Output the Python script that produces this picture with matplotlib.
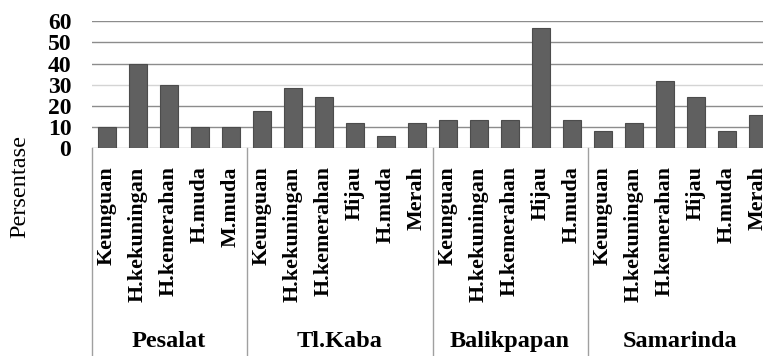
import numpy as np
import matplotlib.pyplot as plt

# Data
groups = ['Pesalat', 'Tl.Kaba', 'Balikpapan', 'Samarinda']
pesalat_cats = ['Keunguan', 'H.kekuningan', 'H.kemerahan', 'H.muda', 'M.muda']
pesalat_vals = [10, 40, 30, 10, 10]
tlkaba_cats = ['Keunguan', 'H.kekuningan', 'H.kemerahan', 'Hijau', 'H.muda', 'Merah']
tlkaba_vals = [17.8, 28.5, 24.2, 11.8, 5.9, 11.8]
balikpapan_cats = ['Keunguan', 'H.kekuningan', 'H.kemerahan', 'Hijau', 'H.muda']
balikpapan_vals = [13.3, 13.3, 13.3, 56.7, 13.3]
samarinda_cats = ['Keunguan', 'H.kekuningan', 'H.kemerahan', 'Hijau', 'H.muda', 'Merah']
samarinda_vals = [8, 11.8, 31.6, 24.2, 8, 15.7]
yticks = [0, 10, 20, 30, 40, 50, 60]

group_cats = [pesalat_cats, tlkaba_cats, balikpapan_cats, samarinda_cats]
group_vals = [pesalat_vals, tlkaba_vals, balikpapan_vals, samarinda_vals]
cats = sum(group_cats, [])
vals = sum(group_vals, [])
x = np.arange(len(cats))

serif = 'Liberation Serif'

fig = plt.figure(figsize=(7.63, 3.56), dpi=100)
# plot area runs slightly past the right edge, as in the original
ax = fig.add_axes([91.5 / 763, 1 - 148.3 / 356, 682 / 763, 127 / 356])

for t in yticks[1:]:
    ax.axhline(t, color='#d4d4d4' if t == 30 else '#8c8c8c', lw=1, zorder=0)
ax.axhline(0, color='#a0a0a0', lw=1, zorder=0)

ax.bar(x, vals, width=0.56, color='#606060', edgecolor='#4c4c4c', linewidth=0.8, zorder=2)

ax.set_xlim(-0.5, len(cats) - 0.5)
ax.set_ylim(0, 60)
for s in ax.spines.values():
    s.set_visible(False)

ax.set_yticks(yticks)
ax.set_yticklabels([str(t) for t in yticks], fontfamily=serif, fontweight='bold', fontsize=17)
ax.tick_params(axis='y', length=0, pad=14.5)

ax.set_xticks(x)
ax.set_xticklabels(cats, rotation=90, fontfamily=serif, fontweight='bold', fontsize=15.8)
ax.tick_params(axis='x', length=0, pad=13)

# group boxes under the axis
trans = ax.get_xaxis_transform()
start = 0
for name, gc in zip(groups, group_cats):
    left = start - 0.5
    ax.plot([left, left], [0, -2], transform=trans, color='#a0a0a0', lw=1, clip_on=False)
    mid = start + (len(gc) - 1) / 2
    ax.text(mid, -1.523, name, transform=trans, ha='center', va='center',
            fontfamily=serif, fontweight='bold', fontsize=17.5)
    start += len(gc)
ax.plot([start - 0.5, start - 0.5], [0, -2], transform=trans, color='#a0a0a0', lw=1, clip_on=False)

fig.text(20 / 763, 1 - 187 / 356, 'Persentase', rotation=90, ha='center', va='center',
         fontfamily=serif, fontsize=17.5)

plt.savefig('out.png', dpi=100)
